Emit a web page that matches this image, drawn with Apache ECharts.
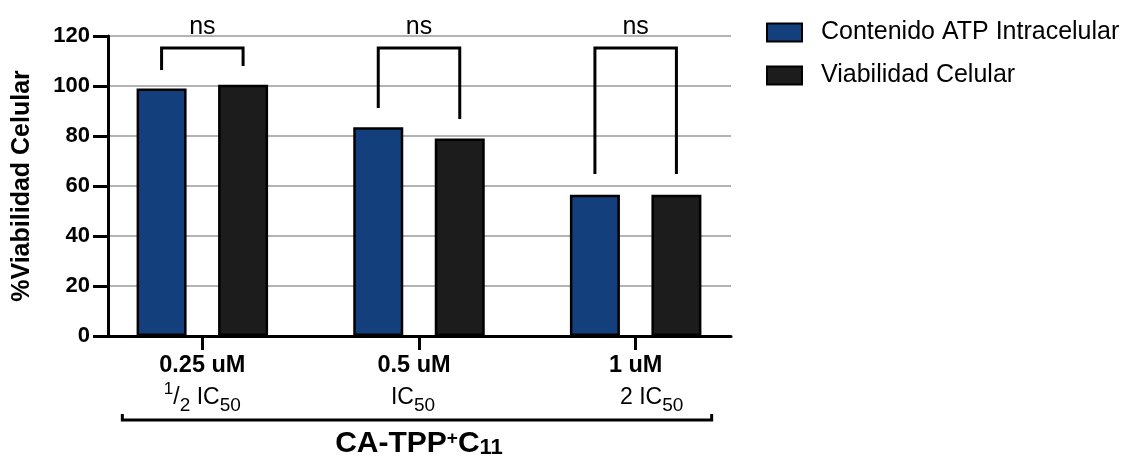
<!DOCTYPE html>
<html>
<head>
<meta charset="utf-8">
<script src="https://cdn.jsdelivr.net/npm/echarts@6/dist/echarts.min.js"></script>
<style>html,body{margin:0;padding:0;background:#fff}#c{width:1124px;height:464px}</style>
</head>
<body>
<div id="c"></div>
<script>
// ---- data ----
const categories = ['0.25 uM', '0.5 uM', '1 uM'];
const seriesNames = ['Contenido ATP Intracelular', 'Viabilidad Celular'];
const atpValues = [99, 83.5, 56.5];
const viabValues = [100.5, 79, 56.5];
const yTicks = [0, 20, 40, 60, 80, 100, 120];
// significance brackets: top, left leg end, right leg end (per category)
const bracketTop = [115.2, 115.2, 115.2];
const bracketLeft = [106.4, 91.2, 64.8];
const bracketRight = [108, 86.8, 64.8];
const sigLabels = ['ns', 'ns', 'ns'];

const FONT = '"Liberation Sans", Arial, Helvetica, sans-serif';
const BAR_W = 50, BAR_GAP_PX = 31.5;
const OFF = (BAR_W + BAR_GAP_PX) / 2;

const chart = echarts.init(document.getElementById('c'));

const bracketData = categories.map((c, i) => [i, bracketTop[i], bracketLeft[i], bracketRight[i]]);

const line2 = [
  '{sup|1}{r|/}{sub|2}{r| IC}{sub|50}',
  '{r|IC}{sub|50}{sp2| }',
  '{sp3| }{r|2 IC}{sub|50}'
];
const line1Pad = ['', '{sp1| }', ''];

const option = {
  animation: false,
  backgroundColor: '#fff',
  textStyle: { fontFamily: FONT },
  legend: {
    data: seriesNames,
    orient: 'vertical',
    icon: 'rect',
    left: 766,
    top: 20,
    padding: 0,
    itemWidth: 35,
    itemHeight: 18,
    itemGap: 18,
    textStyle: { fontFamily: FONT, fontSize: 25, color: '#000', padding: [0, 0, 0, 14] }
  },
  grid: [
    { left: 108, top: 36, width: 623, height: 300, outerBoundsMode: 'none', containLabel: false },
    { left: 94, top: 36, width: 650, height: 300, outerBoundsMode: 'none', containLabel: false }
  ],
  xAxis: [
    {
      gridIndex: 0, type: 'value', min: 0, max: 1,
      axisLine: { show: true, lineStyle: { color: '#000', width: 3 } },
      axisTick: { show: false }, axisLabel: { show: false }, splitLine: { show: false }
    },
    {
      gridIndex: 1, type: 'category', data: categories,
      axisLine: { show: false },
      axisTick: { show: true, alignWithLabel: true, length: 14, lineStyle: { color: '#000', width: 3 } },
      axisLabel: {
        interval: 0,
        hideOverlap: false,
        margin: 15,
        color: '#000',
        formatter: function (v, i) {
          return '{b|' + v + '}' + line1Pad[i] + '\n' + line2[i];
        },
        rich: {
          b: { fontFamily: FONT, fontSize: 23.5, fontWeight: 'bold', color: '#000', lineHeight: 30 },
          r: { fontFamily: FONT, fontSize: 23, color: '#000', lineHeight: 34 },
          sub: { fontFamily: FONT, fontSize: 19, color: '#000', lineHeight: 18, verticalAlign: 'bottom' },
          sup: { fontFamily: FONT, fontSize: 17, color: '#000', lineHeight: 16, verticalAlign: 'top' },
          sp1: { width: 10, fontSize: 22, lineHeight: 30 },
          sp2: { width: 12, fontSize: 22, lineHeight: 34 },
          sp3: { width: 32, fontSize: 22, lineHeight: 34 }
        }
      },
      name: '{m|CA-TPP}{sup|+}{m|C}{sub|11}',
      nameLocation: 'middle',
      nameGap: 93,
      nameTextStyle: {
        rich: {
          m: { fontFamily: FONT, fontSize: 30, fontWeight: 'bold', color: '#000', lineHeight: 30 },
          sup: { fontFamily: FONT, fontSize: 19, fontWeight: 'bold', color: '#000', lineHeight: 16, verticalAlign: 'top' },
          sub: { fontFamily: FONT, fontSize: 22, fontWeight: 'bold', color: '#000', lineHeight: 18, verticalAlign: 'bottom' }
        }
      }
    }
  ],
  yAxis: [
    {
      gridIndex: 0, type: 'value', min: yTicks[0], max: yTicks[yTicks.length - 1], interval: 20,
      axisLine: { show: true, lineStyle: { color: '#000', width: 3 } },
      axisTick: { show: true, length: 15, lineStyle: { color: '#000', width: 3 } },
      axisLabel: { margin: 18, fontFamily: FONT, fontSize: 22, fontWeight: 'bold', color: '#000' },
      splitLine: { show: true, lineStyle: { color: '#9a9a9a', width: 1.5 } },
      name: '%Viabilidad Celular',
      nameLocation: 'middle',
      nameRotate: 90,
      nameGap: 73,
      nameTextStyle: { fontFamily: FONT, fontSize: 25, fontWeight: 'bold', color: '#000' }
    },
    {
      gridIndex: 1, type: 'value', min: 0, max: 120, show: false, splitLine: { show: false }
    }
  ],
  series: [
    {
      name: seriesNames[0], type: 'bar', xAxisIndex: 1, yAxisIndex: 1,
      data: atpValues, barWidth: BAR_W, barGap: (BAR_GAP_PX / BAR_W * 100) + '%',
      itemStyle: { color: '#133f7c', borderColor: '#000', borderWidth: 2.5 }
    },
    {
      name: seriesNames[1], type: 'bar', xAxisIndex: 1, yAxisIndex: 1,
      data: viabValues, barWidth: BAR_W,
      itemStyle: { color: '#1c1c1c', borderColor: '#000', borderWidth: 2.5 }
    },
    {
      type: 'custom', xAxisIndex: 1, yAxisIndex: 1,
      data: bracketData,
      encode: { x: 0, y: 1 },
      clip: false,
      silent: true,
      renderItem: function (params, api) {
        const idx = api.value(0);
        const p = api.coord([idx, api.value(1)]);
        const cx = p[0], top = p[1];
        const yl = api.coord([idx, api.value(2)])[1];
        const yr = api.coord([idx, api.value(3)])[1];
        return {
          type: 'group',
          children: [
            {
              type: 'polyline',
              shape: { points: [[cx - OFF, yl], [cx - OFF, top], [cx + OFF, top], [cx + OFF, yr]] },
              style: { stroke: '#000', lineWidth: 3, fill: null }
            },
            {
              type: 'text', x: cx, y: top - 21,
              style: { text: sigLabels[params.dataIndex], fill: '#000', font: '25px ' + FONT, align: 'center', verticalAlign: 'middle' }
            }
          ]
        };
      }
    }
  ]
};

chart.setOption(option);

// group bracket under the axis labels, positioned from the category axis
const c0 = chart.convertToPixel({ xAxisIndex: 1 }, categories[0]);
const c2 = chart.convertToPixel({ xAxisIndex: 1 }, categories[2]);
const by = 420;
chart.setOption({
  graphic: [{
    type: 'polyline',
    shape: { points: [[c0 - 80, by - 6], [c0 - 80, by], [c2 + 76, by], [c2 + 76, by - 6]] },
    style: { stroke: '#000', lineWidth: 3, fill: null }
  }]
});
</script>
</body>
</html>
